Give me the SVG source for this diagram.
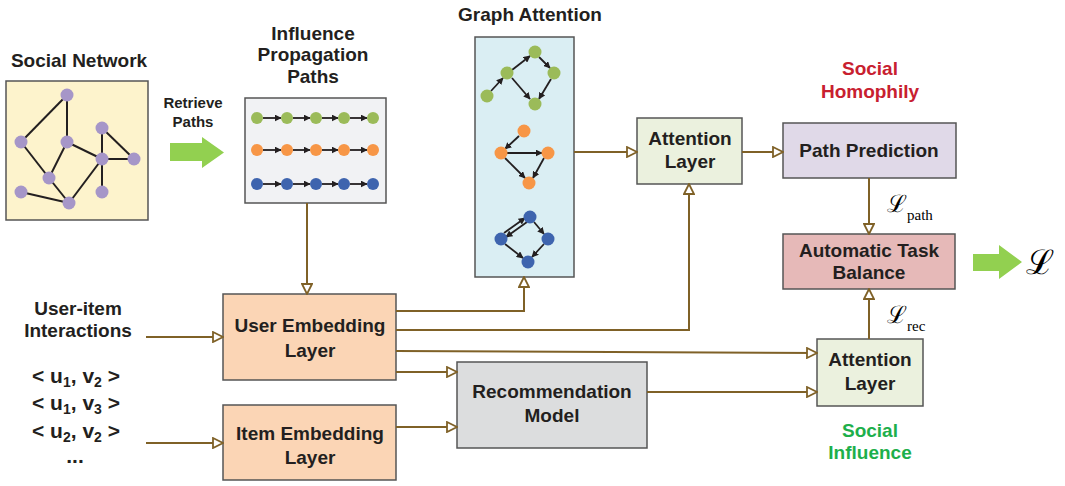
<svg xmlns="http://www.w3.org/2000/svg" width="1065" height="486" viewBox="0 0 1065 486">
<defs>
<style>
.t{font-family:"Liberation Sans",Arial,sans-serif;font-weight:bold;font-size:19px;fill:#231F20;text-anchor:middle}
.box{stroke:#555;stroke-width:1.5}
.con{fill:none;stroke:#7F6127;stroke-width:2;marker-end:url(#ha)}
.e{stroke:#231F20;stroke-width:2}
.ea{stroke:#231F20;stroke-width:1.8;marker-end:url(#ba)}
.pu{fill:#A696C8}.gr{fill:#9BBB59}.or{fill:#F79646}.bl{fill:#3E64AE}
.ls{font-family:"DejaVu Serif","Liberation Serif",serif;fill:#000}
.sub{font-family:"Liberation Serif","Times New Roman",serif;fill:#000}
</style>
<marker id="ha" viewBox="0 0 12 12" refX="11" refY="6" markerWidth="12" markerHeight="12" markerUnits="userSpaceOnUse" orient="auto">
<path d="M1,1 L11,6 L1,11 Z" fill="#fff" stroke="#7F6127" stroke-width="1.8"/>
</marker>
<marker id="ba" viewBox="0 0 10 10" refX="9" refY="5" markerWidth="7" markerHeight="7" markerUnits="userSpaceOnUse" orient="auto">
<path d="M0,0 L10,5 L0,10 Z" fill="#231F20"/>
</marker>
</defs>
<rect width="1065" height="486" fill="#fff"/>

<g id="social-network">
<text class="t" x="79" y="67">Social Network</text>
<rect class="box" x="6" y="81" width="142" height="139" fill="#FDF3CC"/>
<g class="e">
<line x1="67" y1="95" x2="21" y2="142"/><line x1="67" y1="95" x2="67" y2="142"/>
<line x1="21" y1="142" x2="49" y2="178"/><line x1="67" y1="142" x2="49" y2="178"/>
<line x1="67" y1="142" x2="102" y2="159"/><line x1="102" y1="128" x2="102" y2="159"/>
<line x1="102" y1="128" x2="134" y2="159"/><line x1="102" y1="159" x2="134" y2="159"/>
<line x1="102" y1="159" x2="69" y2="203"/><line x1="102" y1="159" x2="102" y2="192"/>
<line x1="49" y1="178" x2="69" y2="203"/><line x1="21" y1="192" x2="69" y2="203"/>
</g>
<g class="pu">
<circle cx="67" cy="95" r="6.5"/><circle cx="21" cy="142" r="6.5"/><circle cx="67" cy="142" r="6.5"/>
<circle cx="102" cy="128" r="6.5"/><circle cx="102" cy="159" r="6.5"/><circle cx="134" cy="159" r="6.5"/>
<circle cx="49" cy="178" r="6.5"/><circle cx="21" cy="192" r="6.5"/><circle cx="69" cy="203" r="6.5"/>
<circle cx="102" cy="192" r="6.5"/>
</g>
</g>

<g id="retrieve-paths">
<text class="t" x="193" y="108" style="font-size:15px">Retrieve</text>
<text class="t" x="193" y="127" style="font-size:15px">Paths</text>
<path d="M170,143 L202,143 L202,137 L224,152.5 L202,168 L202,161 L170,161 Z" fill="#92D050"/>
</g>

<g id="influence-paths">
<text class="t" x="313" y="40">Influence</text>
<text class="t" x="313" y="61">Propagation</text>
<text class="t" x="313" y="83">Paths</text>
<rect class="box" x="245" y="98" width="141" height="105" fill="#F1F2F4"/>
<g>
<line class="ea" x1="263" y1="118" x2="281" y2="118"/><line class="ea" x1="293" y1="118" x2="310" y2="118"/><line class="ea" x1="322" y1="118" x2="338" y2="118"/><line class="ea" x1="350" y1="118" x2="367" y2="118"/>
<line class="ea" x1="263" y1="150" x2="281" y2="150"/><line class="ea" x1="293" y1="150" x2="310" y2="150"/><line class="ea" x1="322" y1="150" x2="338" y2="150"/><line class="ea" x1="350" y1="150" x2="367" y2="150"/>
<line class="ea" x1="263" y1="184" x2="281" y2="184"/><line class="ea" x1="293" y1="184" x2="310" y2="184"/><line class="ea" x1="322" y1="184" x2="338" y2="184"/><line class="ea" x1="350" y1="184" x2="367" y2="184"/>
</g>
<g class="gr"><circle cx="257" cy="118" r="6"/><circle cx="287" cy="118" r="6"/><circle cx="316" cy="118" r="6"/><circle cx="344" cy="118" r="6"/><circle cx="373" cy="118" r="6"/></g>
<g class="or"><circle cx="257" cy="150" r="6"/><circle cx="287" cy="150" r="6"/><circle cx="316" cy="150" r="6"/><circle cx="344" cy="150" r="6"/><circle cx="373" cy="150" r="6"/></g>
<g class="bl"><circle cx="257" cy="184" r="6"/><circle cx="287" cy="184" r="6"/><circle cx="316" cy="184" r="6"/><circle cx="344" cy="184" r="6"/><circle cx="373" cy="184" r="6"/></g>
</g>

<g id="graph-attention">
<text class="t" x="530" y="21">Graph Attention</text>
<rect class="box" x="475" y="37" width="99" height="240" fill="#DAEEF3"/>
<g>
<line class="ea" x1="491" y1="91" x2="503" y2="78"/>
<line class="ea" x1="512" y1="70" x2="530" y2="56"/>
<line class="ea" x1="539" y1="57" x2="550" y2="68"/>
<line class="ea" x1="551" y1="79" x2="539" y2="99"/>
<line class="ea" x1="512" y1="78" x2="530" y2="99"/>
<line class="ea" x1="519" y1="136" x2="505" y2="149"/>
<line class="ea" x1="507" y1="153" x2="542" y2="153"/>
<line class="ea" x1="505" y1="158" x2="525" y2="178"/>
<line class="ea" x1="544" y1="158" x2="533" y2="178"/>
<line class="ea" x1="504" y1="233" x2="525" y2="218"/>
<line class="ea" x1="527" y1="222" x2="506" y2="237"/>
<line class="ea" x1="534" y1="222" x2="544" y2="234"/>
<line class="ea" x1="544" y1="244" x2="532" y2="257"/>
<line class="ea" x1="505" y1="244" x2="523" y2="258"/>
</g>
<g class="gr"><circle cx="535" cy="52" r="6.5"/><circle cx="507" cy="73" r="6.5"/><circle cx="554" cy="73" r="6.5"/><circle cx="487" cy="96" r="6.5"/><circle cx="535" cy="104" r="6.5"/></g>
<g class="or"><circle cx="524" cy="131" r="6.5"/><circle cx="501" cy="153" r="6.5"/><circle cx="548" cy="153" r="6.5"/><circle cx="529" cy="183" r="6.5"/></g>
<g class="bl"><circle cx="530" cy="217" r="6.5"/><circle cx="501" cy="239" r="6.5"/><circle cx="548" cy="239" r="6.5"/><circle cx="528" cy="262" r="6.5"/></g>
</g>

<g id="attention-layer-1">
<rect class="box" x="637" y="118" width="105" height="66" fill="#EBF1DE"/>
<text class="t" x="690" y="145">Attention</text>
<text class="t" x="690" y="168">Layer</text>
</g>

<g id="social-homophily">
<text class="t" x="870" y="75" style="fill:#C8202F">Social</text>
<text class="t" x="870" y="98" style="fill:#C8202F">Homophily</text>
</g>

<g id="path-prediction">
<rect class="box" x="783" y="123" width="173" height="55" fill="#E0D9E8"/>
<text class="t" x="869" y="157">Path Prediction</text>
</g>

<g id="task-balance">
<rect class="box" x="783" y="234" width="172" height="55" fill="#E6B9B8"/>
<text class="t" x="869" y="257">Automatic Task</text>
<text class="t" x="869" y="279">Balance</text>
</g>

<g id="loss-labels">
<text class="ls" x="887" y="212" font-size="24">ℒ</text>
<text class="sub" x="907" y="220" font-size="15">path</text>
<text class="ls" x="887" y="323" font-size="24">ℒ</text>
<text class="sub" x="907" y="331" font-size="15">rec</text>
</g>

<g id="output-loss">
<path d="M973,254 L999,254 L999,245 L1022,262 L999,279 L999,271 L973,271 Z" fill="#92D050"/>
<text class="ls" x="1026" y="274" font-size="34">ℒ</text>
</g>

<g id="user-item-interactions">
<text class="t" x="78" y="315">User-item</text>
<text class="t" x="78" y="337">Interactions</text>
<text class="t" x="76" y="383" style="font-size:21px">&lt; u<tspan font-size="14" dy="4">1</tspan><tspan dy="-4">, v</tspan><tspan font-size="14" dy="4">2</tspan><tspan dy="-4"> &gt;</tspan></text>
<text class="t" x="76" y="410" style="font-size:21px">&lt; u<tspan font-size="14" dy="4">1</tspan><tspan dy="-4">, v</tspan><tspan font-size="14" dy="4">3</tspan><tspan dy="-4"> &gt;</tspan></text>
<text class="t" x="76" y="438" style="font-size:21px">&lt; u<tspan font-size="14" dy="4">2</tspan><tspan dy="-4">, v</tspan><tspan font-size="14" dy="4">2</tspan><tspan dy="-4"> &gt;</tspan></text>
<text class="t" x="75" y="463" style="font-size:21px">...</text>
</g>

<g id="user-embedding">
<rect class="box" x="223" y="294" width="173" height="86" fill="#FBD5B5"/>
<text class="t" x="310" y="332">User Embedding</text>
<text class="t" x="310" y="357">Layer</text>
</g>

<g id="item-embedding">
<rect class="box" x="223" y="405" width="173" height="75" fill="#FBD5B5"/>
<text class="t" x="310" y="440">Item Embedding</text>
<text class="t" x="310" y="464">Layer</text>
</g>

<g id="recommendation-model">
<rect class="box" x="457" y="362" width="190" height="86" fill="#DCDDDE"/>
<text class="t" x="552" y="398">Recommendation</text>
<text class="t" x="552" y="422">Model</text>
</g>

<g id="attention-layer-2">
<rect class="box" x="817" y="339" width="106" height="67" fill="#EBF1DE"/>
<text class="t" x="870" y="366">Attention</text>
<text class="t" x="870" y="390">Layer</text>
</g>

<g id="social-influence">
<text class="t" x="870" y="437" style="fill:#1DAF4B">Social</text>
<text class="t" x="870" y="459" style="fill:#1DAF4B">Influence</text>
</g>

<g id="connectors">
<path class="con" d="M574,152 L637,152"/>
<path class="con" d="M742,152 L783,152"/>
<path class="con" d="M869,178 L869,234"/>
<path class="con" d="M869,339 L869,289"/>
<path class="con" d="M307,203 L307,294"/>
<path class="con" d="M146,337 L223,337"/>
<path class="con" d="M146,443 L223,443"/>
<path class="con" d="M396,311 L524,311 L524,277"/>
<path class="con" d="M396,330 L689,330 L689,184"/>
<path class="con" d="M396,351 L817,353"/>
<path class="con" d="M396,372 L457,372"/>
<path class="con" d="M396,427 L457,427"/>
<path class="con" d="M647,392 L817,392"/>
</g>
</svg>
